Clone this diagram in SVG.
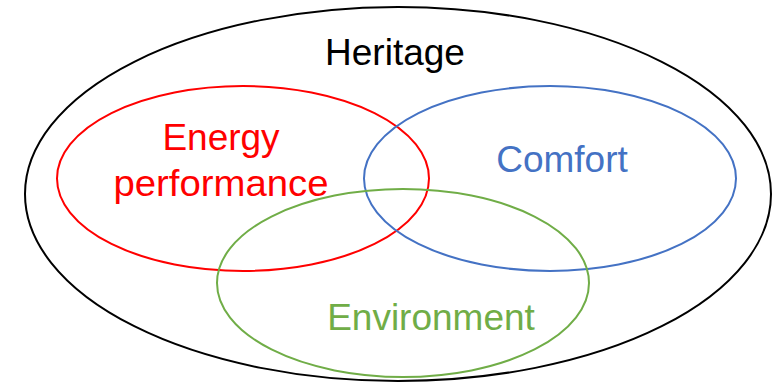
<svg xmlns="http://www.w3.org/2000/svg" width="773" height="382" viewBox="0 0 773 382">
  <style>
    .ring { fill: none; stroke-width: 2; }
    .label { font-family: "Liberation Sans", Arial, sans-serif; font-size: 37px; text-anchor: middle; }
  </style>
  <rect width="773" height="382" fill="#ffffff"/>
  <g id="heritage">
    <ellipse class="ring" cx="398" cy="194" rx="373" ry="187" stroke="#000000"/>
    <text class="label" x="395" y="65" fill="#000000">Heritage</text>
  </g>
  <g id="energy-performance">
    <ellipse class="ring" cx="243" cy="178.5" rx="186" ry="92.5" stroke="#ff0000"/>
    <text class="label" x="221" y="150" fill="#ff0000">Energy</text>
    <text class="label" x="221" y="196" fill="#ff0000" textLength="215" lengthAdjust="spacingAndGlyphs">performance</text>
  </g>
  <g id="comfort">
    <ellipse class="ring" cx="550" cy="178.5" rx="186" ry="92.5" stroke="#4472c4"/>
    <text class="label" x="562" y="172" fill="#4472c4">Comfort</text>
  </g>
  <g id="environment">
    <ellipse class="ring" cx="403" cy="283" rx="186" ry="94" stroke="#70ad47"/>
    <text class="label" x="431" y="330" fill="#70ad47">Environment</text>
  </g>
  <g id="connectors"/>
</svg>
